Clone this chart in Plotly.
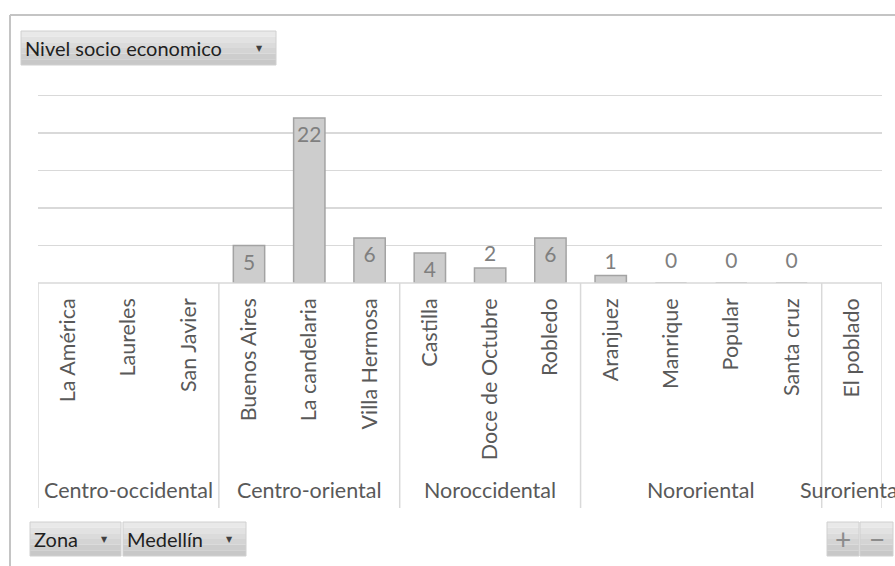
import plotly.graph_objects as go

# ---- data ----
barrios = ["La América", "Laureles", "San Javier",
           "Buenos Aires", "La candelaria", "Villa Hermosa",
           "Castilla", "Doce de Octubre", "Robledo",
           "Aranjuez", "Manrique", "Popular", "Santa cruz",
           "El poblado"]
valores = [None, None, None,
           5, 22, 6,
           4, 2, 6,
           1, 0, 0, 0,
           None]
zonas = ["Centro-occidental", "Centro-oriental", "Noroccidental", "Nororiental", "Suroriental"]
zona_tamanos = [3, 3, 3, 4, 1]
y_ticks = [0, 5, 10, 15, 20, 25]

W, H = 895, 566
def px(x):
    return x / W
def py(y):
    return 1 - y / H

FONT = "Lato"
GREY_TXT = "#595959"
LBL = "#7f7f7f"
LINE = "#d9d9d9"

fig = go.Figure()
fig.add_trace(go.Bar(
    x=barrios, y=valores,
    width=0.52,
    marker=dict(color="#cdcdcd", line=dict(color="#a3a3a3", width=1.5)),
    text=[("" if (v is None or v == 0) else str(v)) for v in valores],
    textposition="auto",
    insidetextanchor="end",
    textangle=0,
    constraintext="none",
    textfont=dict(family=FONT, size=21, color=LBL),
    insidetextfont=dict(family=FONT, size=21, color=LBL),
    outsidetextfont=dict(family=FONT, size=21, color=LBL),
    cliponaxis=False,
    hoverinfo="skip",
))

# zero-value labels (plotly hides text of zero-height bars)
zx = [b for b, v in zip(barrios, valores) if v == 0]
zy = [v for v in valores if v == 0]
fig.add_trace(go.Scatter(
    x=zx, y=zy, mode="markers+text", text=[str(v) for v in zy],
    textposition="top center",
    marker=dict(size=14, color="rgba(0,0,0,0)"),
    textfont=dict(family=FONT, size=21, color=LBL),
    cliponaxis=False, hoverinfo="skip",
))

shapes = []
annotations = []

# group separators and labels
bounds = [-0.5]
for n in zona_tamanos:
    bounds.append(bounds[-1] + n)
for b in bounds:
    shapes.append(dict(type="line", xref="x", yref="paper", x0=b, x1=b,
                       y0=py(283), y1=py(508), line=dict(color=LINE, width=1.5)))
for i, z in enumerate(zonas):
    c = (bounds[i] + bounds[i + 1]) / 2
    annotations.append(dict(text=z, xref="x", yref="paper", x=c, y=py(490),
                            showarrow=False, xanchor="center", yanchor="middle",
                            font=dict(family=FONT, size=21.5, color=GREY_TXT)))

# baseline box top
shapes.append(dict(type="line", xref="x", yref="paper", x0=-0.5, x1=13.5,
                   y0=py(283), y1=py(283), line=dict(color=LINE, width=1.5)))

# outer chart border
shapes.append(dict(type="line", xref="paper", yref="paper", x0=px(10), x1=1,
                   y0=py(15), y1=py(15), line=dict(color="#c4c4c4", width=2)))
shapes.append(dict(type="line", xref="paper", yref="paper", x0=px(10), x1=px(10),
                   y0=py(15), y1=0, line=dict(color="#c4c4c4", width=2)))

# field buttons (vertical gradient approximated with bands)
GRAD = ["#e9e9e9", "#e2e2e2", "#dbdbdb", "#d4d4d4", "#cdcdcd", "#c8c8c8"]
def button(x0, x1, y0, y1, label=None, arrow=True, tx=None, center=False, color="#1f1f1f"):
    n = len(GRAD)
    h = (y1 - y0) / n
    for k, col in enumerate(GRAD):
        shapes.append(dict(type="rect", xref="paper", yref="paper",
                           x0=px(x0), x1=px(x1), y0=py(y0 + (k + 1) * h), y1=py(y0 + k * h),
                           fillcolor=col, line=dict(width=0)))
    shapes.append(dict(type="rect", xref="paper", yref="paper",
                       x0=px(x0), x1=px(x1), y0=py(y1), y1=py(y0),
                       fillcolor="rgba(0,0,0,0)", line=dict(color="#d0d0d0", width=1)))
    if label is not None:
        if center:
            annotations.append(dict(text=label, xref="paper", yref="paper",
                                    x=px((x0 + x1) / 2), y=py((y0 + y1) / 2),
                                    showarrow=False, xanchor="center", yanchor="middle",
                                    font=dict(family=FONT, size=28, color=color)))
        else:
            annotations.append(dict(text=label, xref="paper", yref="paper",
                                    x=px(tx), y=py((y0 + y1) / 2),
                                    showarrow=False, xanchor="left", yanchor="middle",
                                    font=dict(family=FONT, size=20, color=color)))
    if arrow:
        annotations.append(dict(text="▼", xref="paper", yref="paper",
                                x=px(x1 - 17), y=py((y0 + y1) / 2),
                                showarrow=False, xanchor="center", yanchor="middle",
                                font=dict(family="DejaVu Sans", size=8, color="#404040")))

button(21, 276, 31, 65, "Nivel socio economico", tx=23)
button(30, 121, 522, 556, "Zona", tx=32)
button(123, 246, 522, 556, "Medellín", tx=125)
button(827, 859, 522, 556, "+", arrow=False, center=True, color="#8c8c8c")
button(860, 893, 522, 556, "−", arrow=False, center=True, color="#8c8c8c")

y_top = 25.3
fig.update_layout(
    width=W, height=H,
    margin=dict(l=0, r=0, t=0, b=0),
    paper_bgcolor="white", plot_bgcolor="white",
    showlegend=False,
    xaxis=dict(domain=[px(38), px(882)], type="category",
               categoryorder="array", categoryarray=barrios,
               range=[-0.5, len(barrios) - 0.5],
               tickangle=-90, showgrid=False, showline=False, zeroline=False,
               ticks="", ticklabelstandoff=10,
               tickfont=dict(family=FONT, size=21.5, color=GREY_TXT),
               automargin=False, fixedrange=True),
    yaxis=dict(domain=[py(283), py(283 - y_top * 7.5)], range=[0, y_top],
               tickvals=y_ticks, showticklabels=False,
               showgrid=True, gridcolor=LINE, gridwidth=1.5,
               zeroline=False, showline=False, automargin=False, fixedrange=True),
    shapes=shapes,
    annotations=annotations,
    font=dict(family=FONT),
    hovermode=False,
)

fig.write_html("out.html", config={"displayModeBar": False, "staticPlot": True})
